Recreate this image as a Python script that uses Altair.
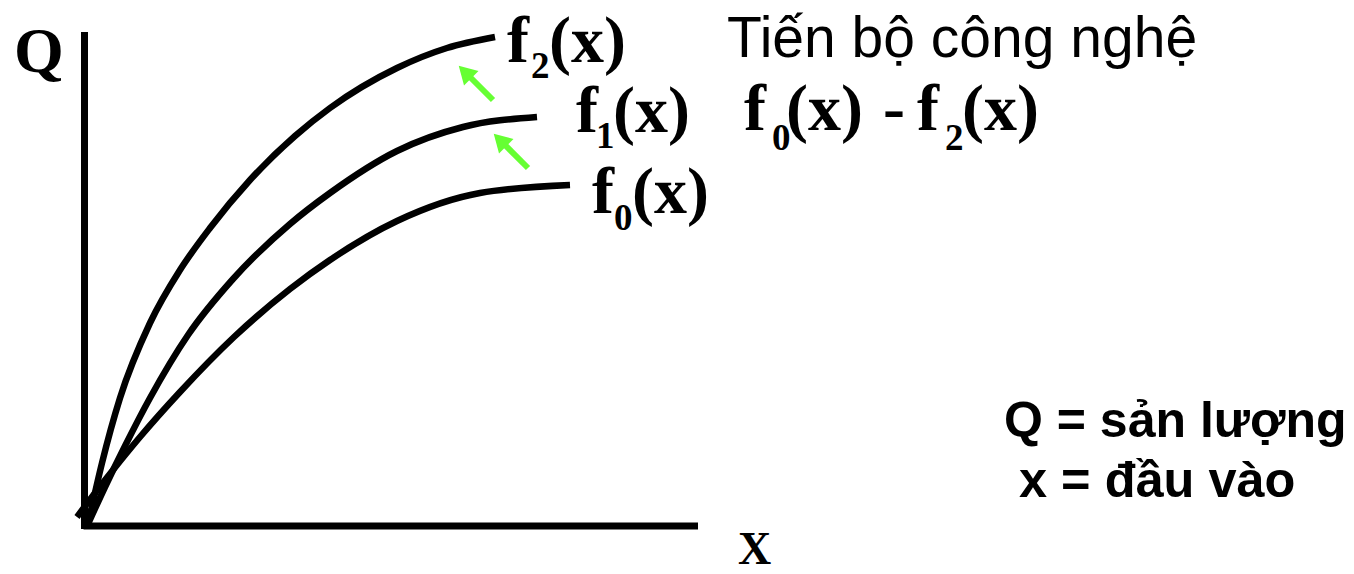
import altair as alt
import pandas as pd

# ---- data (units: input x to the right of the Q axis, output Q above the x axis) ----
f2_x = [2, 16, 34, 64, 94, 124, 164, 209, 244, 311, 361, 409]
f2_q = [2, 63, 128, 203, 256, 298, 346, 390, 418, 458, 478, 489]

f1_x = [2, 19, 39, 64, 102, 147, 204, 244, 311, 377, 451]
f1_q = [2, 39, 80, 128, 191, 247, 302, 333, 375, 399, 409]

f0_x = [-9, 9, 27, 54, 94, 148, 204, 244, 311, 394, 484]
f0_q = [9, 33, 56, 89, 134, 189, 237, 266, 305, 333, 341]

# technology-progress arrows (tail -> tip)
arrow_tail_x = [407, 442]
arrow_tail_q = [426, 358]
arrow_tip_x = [373, 408]
arrow_tip_q = [460, 392]

# axes extents
axis_x_end = 612
axis_q_end = 494

# ---- annotations (text, x, q, size) ----
serif_labels = [
    ("Q", -72, 454, 64),
    ("f", 421, 464, 66), ("2", 445, 448, 37), ("(x)", 463, 464, 66),
    ("f", 490, 394, 66), ("1", 510, 378, 37), ("(x)", 527, 394, 66),
    ("f", 506, 313, 66), ("0", 528, 296, 37), ("(x)", 546, 313, 66),
    ("f", 658, 396, 66), ("0", 686, 376, 37), ("(x)", 700, 396, 66),
    ("-", 797, 396, 66),
    ("f", 831, 396, 66), ("2", 859, 376, 37), ("(x)", 876, 396, 66),
    ("X", 652, -38, 46),
]
sans_labels = [
    ("Tiến bộ công nghệ", 641, 469, 57, "normal"),
    ("Q = sản lượng", 918, 89, 50, "bold"),
    ("x = đầu vào", 933, 29, 50.5, "bold"),
]

# ---- build tables ----
rows = []
for name, xs, qs in [("f2", f2_x, f2_q), ("f1", f1_x, f1_q), ("f0", f0_x, f0_q)]:
    for i, (a, b) in enumerate(zip(xs, qs)):
        rows.append({"curve": name, "i": i, "x": a, "q": b})
curves = pd.DataFrame(rows)

axes = pd.DataFrame([
    {"x": -1.5, "x2": -1.5, "q": -3, "q2": axis_q_end},
    {"x": -2.5, "x2": axis_x_end, "q": 0, "q2": 0},
])

head_off = 6
shafts = pd.DataFrame({
    "x": arrow_tail_x, "q": arrow_tail_q,
    "x2": [t + head_off for t in arrow_tip_x],
    "q2": [t - head_off for t in arrow_tip_q],
})
heads = pd.DataFrame({
    "x": [t + head_off for t in arrow_tip_x],
    "q": [t - head_off for t in arrow_tip_q],
})

serif_df = pd.DataFrame(serif_labels, columns=["text", "x", "q", "size"])
sans_df = pd.DataFrame(sans_labels, columns=["text", "x", "q", "size", "weight"])

xs = alt.Scale(domain=[-78, 1260], nice=False, zero=False)
ys = alt.Scale(domain=[-40, 518], nice=False, zero=False)
X = lambda f="x": alt.X(f + ":Q", scale=xs, axis=None)
Y = lambda f="q": alt.Y(f + ":Q", scale=ys, axis=None)

axes_layer = alt.Chart(axes).mark_rule(color="black", strokeWidth=7).encode(
    x=X(), x2="x2:Q", y=Y(), y2="q2:Q"
)

curve_layer = alt.Chart(curves).mark_line(
    color="black", strokeWidth=6.5, interpolate="monotone"
).encode(x=X(), y=Y(), detail="curve:N", order="i:Q")

green = "#66FF33"
shaft_layer = alt.Chart(shafts).mark_rule(color=green, strokeWidth=6).encode(
    x=X(), x2="x2:Q", y=Y(), y2="q2:Q"
)
head_layer = alt.Chart(heads).mark_point(
    shape="triangle-up", filled=True, color=green, opacity=1, size=420, angle=315, strokeWidth=0
).encode(x=X(), y=Y())

serif_layer = alt.Chart(serif_df).mark_text(
    font="Liberation Serif", fontWeight="bold", align="left", baseline="alphabetic", color="black"
).encode(x=X(), y=Y(), text="text:N", size=alt.Size("size:Q", scale=None))

sans_norm = alt.Chart(sans_df[sans_df.weight == "normal"]).mark_text(
    font="Liberation Sans", fontWeight="normal", align="left", baseline="alphabetic", color="black"
).encode(x=X(), y=Y(), text="text:N", size=alt.Size("size:Q", scale=None))

sans_bold = alt.Chart(sans_df[sans_df.weight == "bold"]).mark_text(
    font="Liberation Sans", fontWeight="bold", align="left", baseline="alphabetic", color="black"
).encode(x=X(), y=Y(), text="text:N", size=alt.Size("size:Q", scale=None))

chart = alt.layer(
    axes_layer, curve_layer, shaft_layer, head_layer, serif_layer, sans_norm, sans_bold
).properties(
    width=1338, height=558, autosize="none", padding=0, background="white"
).configure_view(stroke=None)

chart.save("out.html", embed_options={"renderer": "svg", "actions": False})
